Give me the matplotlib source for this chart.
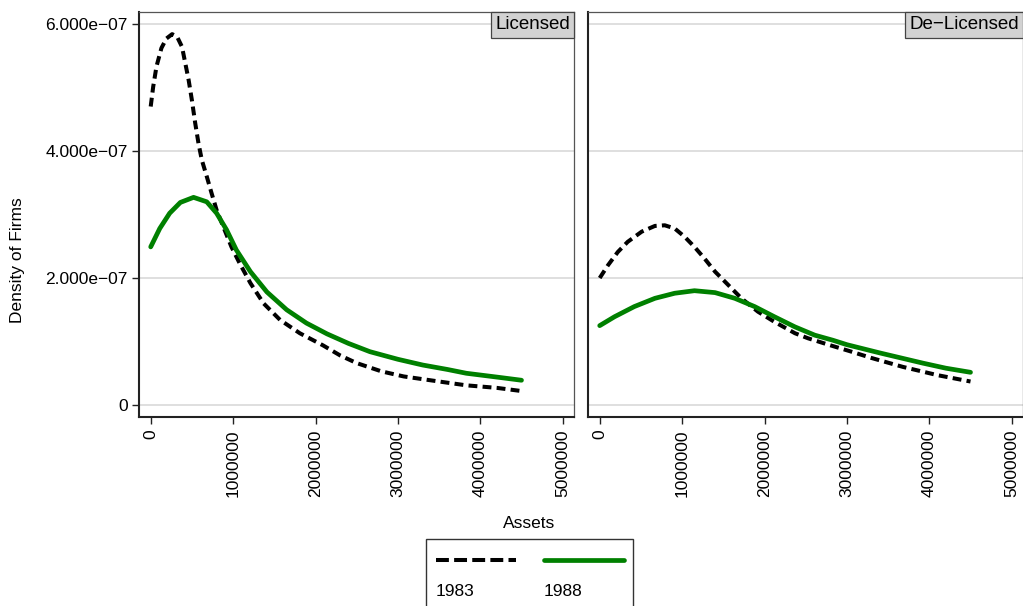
import matplotlib
matplotlib.use('Agg')
import numpy as np
import matplotlib.pyplot as plt
from matplotlib.offsetbox import AnchoredText
from matplotlib.lines import Line2D
from matplotlib.patches import Rectangle

plt.rcParams['font.family'] = ['Liberation Sans', 'DejaVu Sans']

# ---------------- data ----------------
panels = ['Licensed', 'De\u2212Licensed']
years = ['1983', '1988']

# Licensed panel (x in millions of assets, y in 1e-7 density units)
lic_1983_x = [0.0, 0.03, 0.07, 0.13, 0.19, 0.26, 0.32, 0.38, 0.42, 0.46, 0.50, 0.54,
              0.58, 0.62, 0.68, 0.74, 0.80, 0.88, 0.98, 1.08, 1.21, 1.37, 1.57, 1.81,
              2.09, 2.3, 2.5, 2.8, 3.07, 3.5, 3.83, 4.2, 4.5]
lic_1983_y = [4.70, 5.01, 5.33, 5.62, 5.77, 5.84, 5.80, 5.64, 5.38, 5.12, 4.80, 4.44,
              4.12, 3.86, 3.60, 3.33, 3.07, 2.81, 2.49, 2.23, 1.92, 1.60, 1.34, 1.13,
              0.94, 0.78, 0.66, 0.53, 0.45, 0.37, 0.31, 0.27, 0.22]
lic_1988_x = [0.0, 0.11, 0.23, 0.36, 0.52, 0.68, 0.80, 0.92, 1.04, 1.21, 1.41, 1.65,
              1.89, 2.14, 2.4, 2.66, 3.0, 3.3, 3.6, 3.83, 4.2, 4.5]
lic_1988_y = [2.49, 2.78, 3.02, 3.19, 3.27, 3.20, 3.02, 2.76, 2.44, 2.10, 1.78, 1.50,
              1.29, 1.12, 0.97, 0.84, 0.72, 0.63, 0.56, 0.50, 0.44, 0.39]

# De-Licensed panel
del_1983_x = [0.0, 0.10, 0.22, 0.34, 0.51, 0.67, 0.79, 0.91, 1.03, 1.15, 1.27, 1.40,
              1.56, 1.72, 1.92, 2.12, 2.37, 2.53, 2.8, 3.03, 3.3, 3.68, 4.1, 4.5]
del_1983_y = [2.00, 2.20, 2.41, 2.57, 2.73, 2.82, 2.83, 2.78, 2.65, 2.49, 2.31, 2.10,
              1.89, 1.68, 1.47, 1.31, 1.13, 1.05, 0.94, 0.85, 0.74, 0.60, 0.47, 0.37]
del_1988_x = [0.0, 0.18, 0.42, 0.67, 0.91, 1.15, 1.40, 1.64, 1.88, 2.12, 2.37, 2.61,
              2.83, 3.0, 3.4, 3.92, 4.2, 4.5]
del_1988_y = [1.25, 1.39, 1.55, 1.68, 1.76, 1.80, 1.77, 1.68, 1.55, 1.39, 1.23, 1.10,
              1.02, 0.95, 0.82, 0.66, 0.58, 0.515]

X_UNIT = 1e6
Y_UNIT = 1e-7

xticks = [0, 1000000, 2000000, 3000000, 4000000, 5000000]
xtick_labels = ['0', '1000000', '2000000', '3000000', '4000000', '5000000']
yticks = [0, 2e-7, 4e-7, 6e-7]
ytick_labels = ['0', '2.000e\u221207', '4.000e\u221207', '6.000e\u221207']

series = {
    'Licensed': [(lic_1983_x, lic_1983_y), (lic_1988_x, lic_1988_y)],
    'De\u2212Licensed': [(del_1983_x, del_1983_y), (del_1988_x, del_1988_y)],
}

# ---------------- styles ----------------
styles = [
    dict(color='black', lw=2.9, linestyle=(0, (2.2, 1.3)), dash_capstyle='butt',
         solid_joinstyle='round', dash_joinstyle='round'),
    dict(color='#008000', lw=3.4, linestyle='-', solid_capstyle='round',
         solid_joinstyle='round'),
]

W, H = 1023, 606
fig = plt.figure(figsize=(W / 100, H / 100), dpi=100)

def fx(px):
    return px / W

def fy(py):
    return 1 - py / H

ax_l, ax_r = 139, 588
ax_w = 435
ax_top, ax_bot = 12.3, 416.7
axes = []
for i, (name, left) in enumerate(zip(panels, [ax_l, ax_r])):
    ax = fig.add_axes([fx(left), fy(ax_bot), ax_w / W, (ax_bot - ax_top) / H])
    axes.append(ax)
    for (xs, ys), st in zip(series[name], styles):
        ax.plot(np.array(xs) * X_UNIT, np.array(ys) * Y_UNIT, **st, zorder=3)
    ax.set_xlim(-142000, 5137000)
    ax.set_ylim(-0.184e-7, 6.184e-7)
    ax.set_xticks(xticks)
    ax.set_xticklabels(xtick_labels, rotation=90, fontsize=12.5, va='top')
    ax.set_yticks(yticks)
    ax.yaxis.grid(True, color='#dcdcdc', lw=1.3, zorder=0)
    ax.set_axisbelow(True)
    ax.tick_params(axis='x', length=5, width=1.0, color='#222222', pad=4)
    if i == 0:
        ax.set_yticklabels(ytick_labels, fontsize=12.5)
        ax.tick_params(axis='y', length=5, width=1.0, color='#222222', pad=3)
    else:
        ax.tick_params(axis='y', length=0, labelleft=False)
    for s in ['top', 'right']:
        ax.spines[s].set_color('#555555')
        ax.spines[s].set_linewidth(0.9)
    for s in ['left', 'bottom']:
        ax.spines[s].set_color('#222222')
        ax.spines[s].set_linewidth(1.5)
    at = AnchoredText(name, loc='upper right', pad=0.22, borderpad=0,
                      prop=dict(size=13.5), frameon=True)
    at.patch.set_facecolor('#d2d2d2')
    at.patch.set_edgecolor('#444444')
    at.patch.set_linewidth(0.9)
    at.patch.set_boxstyle('square', pad=0.0)
    ax.add_artist(at)

fig.text(fx(529), fy(523), 'Assets', ha='center', va='center', fontsize=12.5)
fig.text(fx(18), fy(260), 'Density of Firms', ha='center', va='center',
         rotation=90, fontsize=12.5)

# legend (keys above labels)
fig.patches.append(Rectangle((fx(426), fy(612)), (633 - 426) / W, (612 - 539) / H,
                             transform=fig.transFigure, facecolor='white',
                             edgecolor='#333333', lw=1.0, clip_on=False))
key_x = [(436, 516), (544, 624)]
for (x0, x1), st, lab in zip(key_x, styles, years):
    st2 = dict(st)
    if st2.get('linestyle') != '-':
        st2['linestyle'] = (0, (3.2, 1.3))
    fig.add_artist(Line2D([fx(x0), fx(x1)], [fy(560), fy(560)],
                          transform=fig.transFigure, **st2))
    fig.text(fx(x0), fy(592), lab, ha='left', va='center', fontsize=12.5)

fig.savefig('out.png', dpi=100)
